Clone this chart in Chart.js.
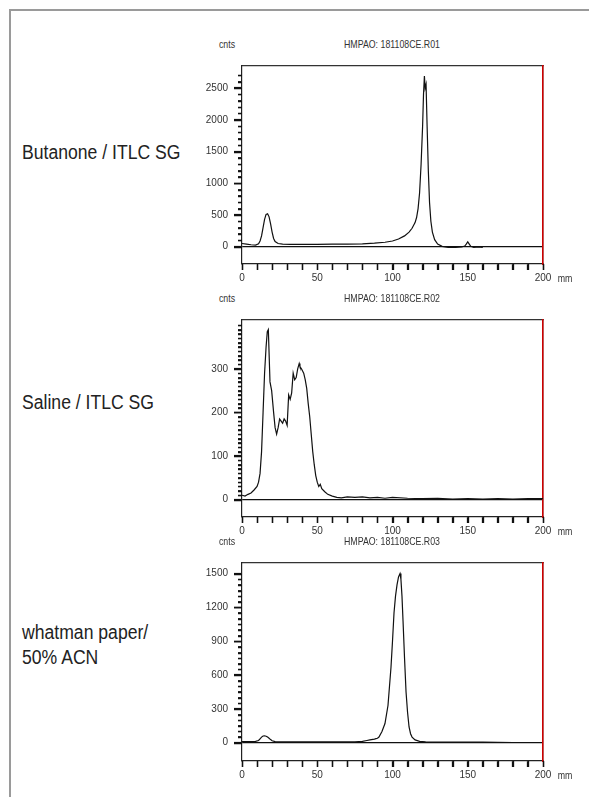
<!DOCTYPE html>
<html lang="en">
<head>
<meta charset="UTF-8">
<title>HMPAO radio-TLC</title>
<script src="https://cdn.jsdelivr.net/npm/chart.js"></script>
<style>
  body { margin:0; background:#fff; width:589px; height:797px; overflow:hidden; position:relative;
         font-family:'Liberation Sans',Arial,sans-serif; color:#222; }
  .frame { position:absolute; left:9px; top:9px; width:600px; height:800px;
           border-left:2px solid #9a9a9a; border-top:2px solid #9a9a9a; }
  .lbl { position:absolute; left:22px; font-size:20px; line-height:25px; white-space:nowrap;
         transform:scaleX(0.88); transform-origin:0 0; }
  .small { position:absolute; font-size:11px; line-height:12px; color:#333; white-space:nowrap;
           transform:translate(-50%,-50%) scaleX(0.8); }
  .box { position:absolute; left:200px; width:389px; }
</style>
</head>
<body>
<div class="frame"></div>
<div class="lbl" style="top:140px">Butanone / ITLC SG</div>
<div class="lbl" style="top:390px">Saline / ITLC SG</div>
<div class="lbl" style="top:620px">whatman paper/<br>50% ACN</div>

<script>
// x in mm, y in cnts
const xTicks = [0, 50, 100, 150, 200];

const distX1 = [0, 3, 6, 9, 11, 12, 13, 14, 15, 16,
                17, 18, 19, 20, 21, 22, 24, 27, 32, 40,
                50, 60, 70, 80, 88, 95, 100, 104, 108, 111,
                113, 115, 116, 117, 118, 119, 120, 120.6, 121.2, 121.7,
                122.3, 123, 123.8, 124.6, 125.5, 126.5, 128, 130, 133, 137,
                142, 146, 148, 149, 150, 151, 152, 154, 157, 160];
const counts1 = [50, 40, 30, 25, 45, 90, 170, 300, 430, 510,
                 520, 470, 360, 230, 130, 80, 50, 40, 35, 35,
                 35, 40, 40, 45, 55, 70, 90, 120, 170, 230,
                 290, 380, 460, 600, 850, 1300, 1900, 2400, 2690, 2500,
                 2560, 1900, 1200, 700, 400, 230, 110, 40, 5, -10,
                 -10, -5, 10, 40, 75, 40, 5, -10, -5, -10];
const yTicks1 = [0, 500, 1000, 1500, 2000, 2500];

const distX2 = [0, 2, 4, 6, 8, 10, 11, 12, 13, 14,
                15, 16, 16.8, 17.5, 18.6, 19.7, 21, 22, 23, 24,
                25, 26, 27, 28, 29, 30, 31, 32, 33, 34,
                35, 36, 37, 38, 38.5, 39.5, 41, 42, 43, 44,
                45, 46, 47, 48, 49, 50, 51, 52, 53, 55,
                57, 60, 63, 66, 70, 75, 80, 85, 90, 95,
                100, 110, 120, 130, 140, 150, 160, 170, 180, 190,
                200];
const counts2 = [10, 8, 12, 15, 22, 30, 40, 60, 110, 200,
                 290, 350, 385, 390, 270, 250, 200, 165, 150, 165,
                 185, 180, 175, 185, 180, 170, 240, 230, 245, 290,
                 275, 280, 300, 312, 305, 300, 290, 275, 255, 220,
                 190, 150, 110, 80, 55, 40, 30, 35, 25, 18,
                 12, 8, 5, 4, 6, 5, 6, 4, 5, 3,
                 5, 3, 2, 3, 1, 2, 1, 2, 1, 2,
                 2];
const yTicks2 = [0, 100, 200, 300];

const distX3 = [0, 3, 6, 9, 11, 12, 13, 14, 15, 16,
                17, 18, 19, 20, 22, 25, 30, 40, 50, 60,
                70, 75, 80, 83, 85, 87, 88, 89, 90, 91,
                93, 95, 97, 99, 100, 101, 102, 103, 104, 105,
                105.6, 106.3, 107, 108, 109, 110, 111, 112, 113, 115,
                118, 122, 130, 140, 150, 160, 170, 180, 190, 195];
const counts3 = [10, 10, 10, 12, 20, 35, 50, 60, 62, 58,
                 50, 40, 28, 18, 10, 8, 8, 8, 8, 8,
                 8, 8, 12, 20, 25, 30, 32, 36, 40, 50,
                 100, 170, 330, 670, 900, 1150, 1300, 1400, 1470, 1500,
                 1450, 1300, 1080, 750, 450, 270, 140, 80, 50, 25,
                 12, 8, 6, 6, 6, 5, 3, 2, 2, 2];
const yTicks3 = [0, 300, 600, 900, 1200, 1500];

const panels = [
  { xs: distX1, ys: counts1, ticks: yTicks1, minor: 100, min: -273, max: 2848,
    top: 58, bottom: 264, name: 'HMPAO: 181108CE.R01' },
  { xs: distX2, ys: counts2, ticks: yTicks2, minor: 10, min: -40, max: 412,
    top: 312, bottom: 517, name: 'HMPAO: 181108CE.R02' },
  { xs: distX3, ys: counts3, ticks: yTicks3, minor: 50, min: -162, max: 1594,
    top: 555, bottom: 761, name: 'HMPAO: 181108CE.R03' }
];

const font = { family: "'Liberation Sans',Arial,sans-serif", size: 10 };

function addText(txt, x, y) {
  const d = document.createElement('div');
  d.className = 'small';
  d.textContent = txt;
  d.style.left = x + 'px';
  d.style.top = y + 'px';
  document.body.appendChild(d);
}

// extra pass over the scales' own ticks so the marks outside the box always show
function tickMarks(isMajor) {
  return {
    id: 'tickMarks',
    afterDraw(chart) {
      const { ctx, chartArea: a } = chart;
      const sx = chart.scales.x, sy = chart.scales.y;
      ctx.save();
      ctx.strokeStyle = '#111';
      ctx.lineWidth = 1.3;
      ctx.beginPath();
      sx.ticks.forEach(t => {
        const px = Math.round(sx.getPixelForValue(t.value)) + 0.5;
        ctx.moveTo(px, a.bottom);
        ctx.lineTo(px, a.bottom + 6);
      });
      sy.ticks.forEach(t => {
        const py = Math.round(sy.getPixelForValue(t.value)) + 0.5;
        ctx.moveTo(a.left - (isMajor(t.value) ? 8 : 4), py);
        ctx.lineTo(a.left, py);
      });
      ctx.stroke();
      ctx.restore();
    }
  };
}

function makePanel(p) {
  const wrap = document.createElement('div');
  wrap.className = 'box';
  wrap.style.top = (p.top - 4) + 'px';
  wrap.style.height = (p.bottom - p.top + 4 + 26) + 'px';
  const cv = document.createElement('canvas');
  wrap.appendChild(cv);
  document.body.appendChild(wrap);

  addText('cnts', 227, p.top - 14);
  addText(p.name, 392, p.top - 14);
  addText('mm', 565, p.bottom + 14);

  const edge = (color, dash) => ({
    type: 'linear', position: 'right', min: p.min, max: p.max,
    ticks: { display: false },
    grid: { drawOnChartArea: false, drawTicks: false },
    border: { color: color, width: 1.5, dash: dash },
    afterFit: s => { s.width = 0; }
  });

  const isMajor = v => p.ticks.includes(v);

  new Chart(cv, {
    type: 'line',
    data: {
      datasets: [{
        data: p.xs.map((x, i) => ({ x: x, y: p.ys[i] })),
        borderColor: '#111',
        borderWidth: 1.2,
        pointRadius: 0,
        tension: 0,
        xAxisID: 'x',
        yAxisID: 'y'
      }]
    },
    plugins: [tickMarks(isMajor)],
    options: {
      responsive: true,
      maintainAspectRatio: false,
      animation: false,
      layout: { padding: { top: 4, right: 46, left: 0, bottom: 0 } },
      plugins: { legend: { display: false }, tooltip: { enabled: false } },
      scales: {
        x: {
          type: 'linear', position: 'bottom', min: 0, max: 200,
          ticks: { stepSize: 10, autoSkip: false, maxRotation: 0, padding: 2, color: '#333', font: font,
                   callback: v => xTicks.includes(v) ? String(v) : '' },
          grid: { drawOnChartArea: false, tickLength: 6, tickColor: '#111', tickWidth: 1.3 },
          border: { color: '#222', width: 1.2 },
          afterFit: s => { s.height = 26; }
        },
        xt: {
          type: 'linear', position: 'top', min: 0, max: 200,
          ticks: { display: false },
          grid: { drawOnChartArea: false, drawTicks: false },
          border: { color: '#333', width: 1.2 },
          afterFit: s => { s.height = 0; }
        },
        y: {
          type: 'linear', position: 'left', min: p.min, max: p.max,
          afterBuildTicks: s => {
            s.ticks = s.ticks.filter(t => t.value >= 0 && t.value % p.minor === 0);
          },
          ticks: { stepSize: p.minor, autoSkip: false, padding: 6, color: '#333', font: font,
                   callback: v => isMajor(v) ? String(v) : '' },
          grid: {
            color: c => (c.tick && c.tick.value === 0) ? '#111' : 'rgba(0,0,0,0)',
            lineWidth: 1.2, tickLength: 8, tickColor: '#111',
            tickWidth: c => (c.tick && isMajor(c.tick.value)) ? 1.4 : 1,
            // minor ticks: only the inner 4px of the 8px tick is inked
            tickBorderDash: c => (c.tick && isMajor(c.tick.value)) ? [] : [0, 4, 4, 100]
          },
          border: { color: '#222', width: 1.2 },
          afterFit: s => { s.width = 42; }
        },
        yr: edge('#666', []),
        yd: edge('#d00000', [4, 3])
      }
    }
  });
}

panels.forEach(makePanel);
</script>
</body>
</html>
